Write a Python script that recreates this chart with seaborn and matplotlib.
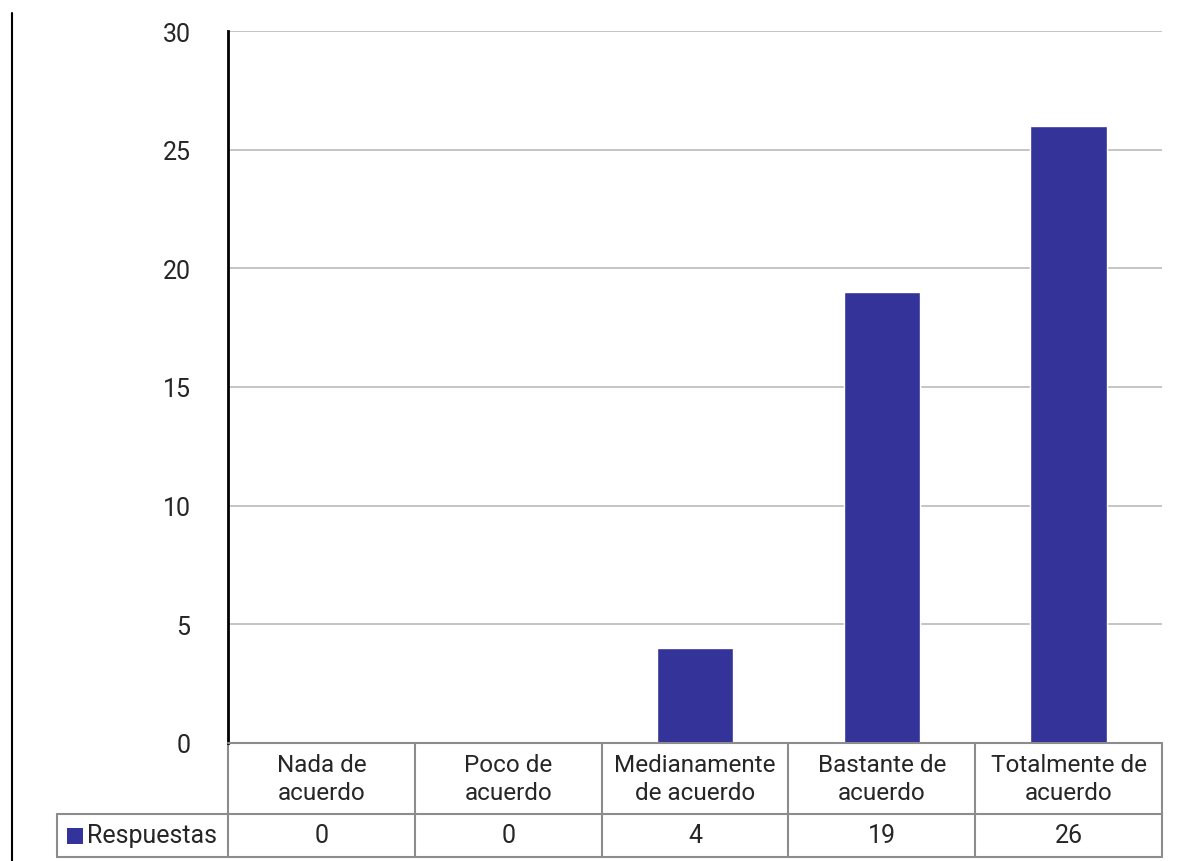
import matplotlib
matplotlib.use('Agg')
import matplotlib.pyplot as plt
import matplotlib.transforms as mtransforms
from matplotlib.patches import Rectangle
import seaborn as sns

# datos
categorias = ['Nada de\nacuerdo', 'Poco de\nacuerdo', 'Medianamente\nde acuerdo',
              'Bastante de\nacuerdo', 'Totalmente de\nacuerdo']
respuestas = [0, 0, 4, 19, 26]
serie = 'Respuestas'
yticks = [0, 5, 10, 15, 20, 25, 30]

color_barra = '#333399'
gris_tabla = '#8c8c8c'

sns.set_style('white')
plt.rcParams['font.family'] = ['Roboto', 'DejaVu Sans']

W, H = 1182, 862
fig = plt.figure(figsize=(W / 100, H / 100), dpi=100)

# ejes en pixeles: x 228..1162, y 32..744
ax = fig.add_axes([228 / W, (H - 744) / H, 934 / W, 712 / H])
sns.barplot(x=list(range(len(respuestas))), y=respuestas, color=color_barra,
            width=0.41, saturation=1, ax=ax, zorder=3)
ax.set_xlim(-0.5, len(respuestas) - 0.5)
ax.set_ylim(0, 30)
ax.set_yticks(yticks)
ax.set_yticklabels([str(t) for t in yticks], fontsize=18)
ax.set_xticks([])
ax.set_xlabel('')
ax.set_ylabel('')
ax.tick_params(axis='y', length=0, pad=27)
ax.grid(axis='y', color='#c0c0c0', linewidth=1.3, zorder=0)
for s in ['top', 'right', 'bottom']:
    ax.spines[s].set_visible(False)
ax.spines['left'].set_color('black')
ax.spines['left'].set_linewidth(2)
ax.spines['left'].set_zorder(4)

# tabla de datos bajo el grafico (x en datos, y en pixeles de figura)
def fy(py):
    return (H - py) / H

trans = mtransforms.blended_transform_factory(ax.transData, fig.transFigure)
ftrans = fig.transFigure
n = len(respuestas)
y0, y1, y2 = fy(744), fy(815), fy(858)

# lineas horizontales
ax.plot([-0.5, n - 0.5], [y0, y0], transform=trans, color=gris_tabla, lw=1.5, clip_on=False, zorder=5)
ax.plot([-0.5, n - 0.5], [y1, y1], transform=trans, color=gris_tabla, lw=1.5, clip_on=False)
ax.plot([-0.5, n - 0.5], [y2, y2], transform=trans, color=gris_tabla, lw=1.5, clip_on=False)
fig.add_artist(plt.Line2D([57 / W, 228 / W], [y1, y1], color=gris_tabla, lw=1.5))
fig.add_artist(plt.Line2D([57 / W, 228 / W], [y2, y2], color=gris_tabla, lw=1.5))
fig.add_artist(plt.Line2D([57 / W, 57 / W], [y1, y2], color=gris_tabla, lw=1.5))

# lineas verticales
for i in range(n + 1):
    ax.plot([i - 0.5, i - 0.5], [y0, y2], transform=trans, color=gris_tabla, lw=1.5, clip_on=False)

# textos
for i, (cat, v) in enumerate(zip(categorias, respuestas)):
    ax.text(i, (y0 + y1) / 2, cat, transform=trans, ha='center', va='center',
            fontsize=17.5, linespacing=1.3)
    ax.text(i, (y1 + y2) / 2, str(v), transform=trans, ha='center', va='center', fontsize=18)

# leyenda dentro de la tabla
fig.add_artist(Rectangle((67 / W, fy(845)), 16 / W, 16 / H, transform=ftrans,
                         facecolor=color_barra, edgecolor='none'))
fig.text(87 / W, (y1 + y2) / 2, serie, ha='left', va='center', fontsize=18)

# linea vertical del borde izquierdo
fig.add_artist(plt.Line2D([12 / W, 12 / W], [fy(14), 0], color='black', lw=1.5))

fig.savefig('out.png', dpi=100)
